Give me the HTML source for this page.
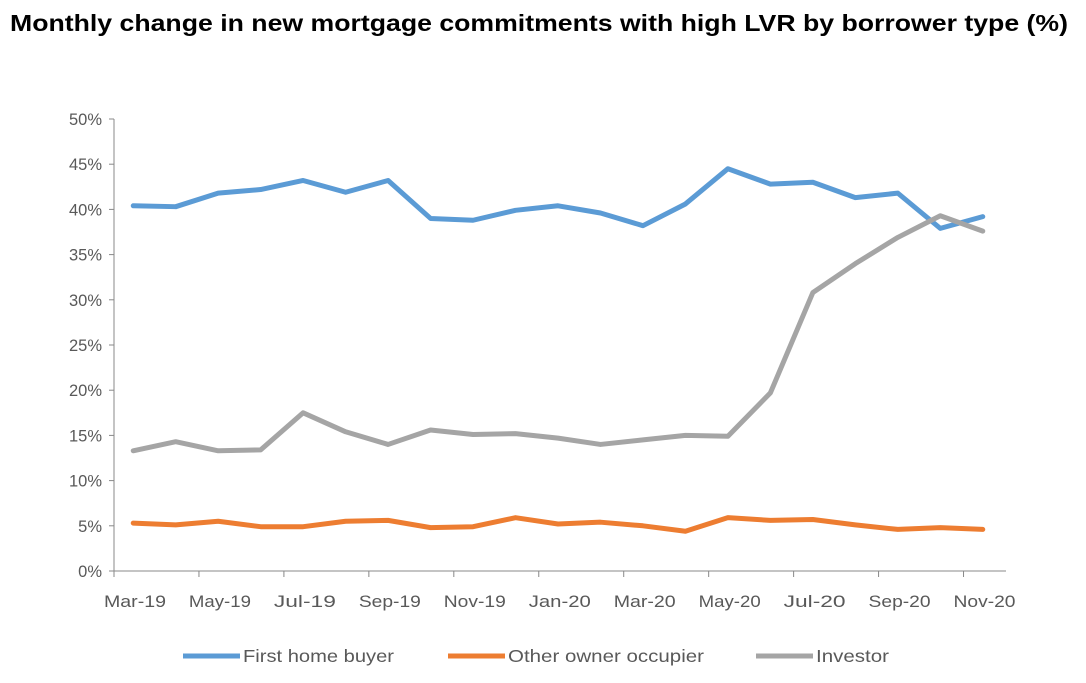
<!DOCTYPE html>
<html><head><meta charset="utf-8"><style>
body{margin:0;background:#fff;width:1086px;height:678px;overflow:hidden;font-family:"Liberation Sans",sans-serif}
</style></head><body>
<svg width="1086" height="678" xmlns="http://www.w3.org/2000/svg">
<text x="10" y="31" font-size="23" font-weight="bold" fill="#000" textLength="1058" lengthAdjust="spacingAndGlyphs">Monthly change in new mortgage commitments with high LVR by borrower type (%)</text>
<g id="axes"></g><g id="series"></g><g id="legend"></g>
</svg>
<script>
const months=["Mar-19","Apr-19","May-19","Jun-19","Jul-19","Aug-19","Sep-19","Oct-19","Nov-19","Dec-19","Jan-20","Feb-20","Mar-20","Apr-20","May-20","Jun-20","Jul-20","Aug-20","Sep-20","Oct-20","Nov-20"];
const firstHome=[40.4,40.3,41.8,42.2,43.2,41.9,43.2,39.0,38.8,39.9,40.4,39.6,38.2,40.6,44.5,42.8,43.0,41.3,41.8,37.9,39.2];
const otherOwner=[5.3,5.1,5.5,4.9,4.9,5.5,5.6,4.8,4.9,5.9,5.2,5.4,5.0,4.4,5.9,5.6,5.7,5.1,4.6,4.8,4.6];
const investor=[13.3,14.3,13.3,13.4,17.5,15.4,14.0,15.6,15.1,15.2,14.7,14.0,14.5,15.0,14.9,19.7,30.8,34.0,36.9,39.3,37.6];
const yTicks=[0,5,10,15,20,25,30,35,40,45,50];
const seriesNames=["First home buyer","Other owner occupier","Investor"];
const colors=["#5b9bd5","#ed7d31","#a5a5a5"];
const NS="http://www.w3.org/2000/svg";
const x0=114,x1=1006,y0=571,y1=119;
const cw=(x1-x0)/months.length;
const xs=i=>x0+cw*(i+0.5)-2;
const ys=v=>y0-(v/50)*(y0-y1);
function mk(t,a,p){const e=document.createElementNS(NS,t);for(const k in a)e.setAttribute(k,a[k]);p.appendChild(e);return e;}
const ax=document.getElementById('axes');
let yl=mk('line',{x1:x0,y1:y1,x2:x0,y2:y0,stroke:'#888','stroke-width':1},ax);


yTicks.forEach(v=>{
 mk('line',{x1:x0-5,x2:x0,y1:ys(v),y2:ys(v),stroke:'#888'},ax);
 const t=mk('text',{x:x0-12,y:ys(v)+6,'text-anchor':'end','font-size':16.5,fill:'#595959'},ax);
 t.textContent=v+'%';
 
 
});
let xl=mk('line',{x1:x0,y1:y0,x2:x1,y2:y0,stroke:'#888'},ax);


months.forEach((m,i)=>{
 if(i%2==0){
  const tx=x0+cw*i;
  mk('line',{x1:tx,x2:tx,y1:y0,y2:y0+6,stroke:'#888'},ax);
  const t=mk('text',{x:tx+21-31,y:y0+36,'font-size':17,fill:'#595959',textLength:62,lengthAdjust:'spacingAndGlyphs'},ax);
  t.textContent=m;
  
  
 }
});
const sg=document.getElementById('series');
[firstHome,otherOwner,investor].forEach((d,s)=>{
 const p=mk('polyline',{points:d.map((v,i)=>xs(i)+','+ys(v)).join(' '),fill:'none',stroke:colors[s],'stroke-width':5,'stroke-linejoin':'round','stroke-linecap':'round'},sg);
 
 
});
const lg=document.getElementById('legend');
const lx=[183,448,756];
const lw=[151,196,73];
seriesNames.forEach((n,s)=>{
 const g=mk('g',{},lg);
 
 
 mk('line',{x1:lx[s],x2:lx[s]+57,y1:656,y2:656,stroke:colors[s],'stroke-width':5},g);
 const t=mk('text',{x:lx[s]+60,y:662,'font-size':17.5,fill:'#595959',textLength:lw[s],lengthAdjust:'spacingAndGlyphs'},g);
 t.textContent=n;
});
</script>
</body></html>
